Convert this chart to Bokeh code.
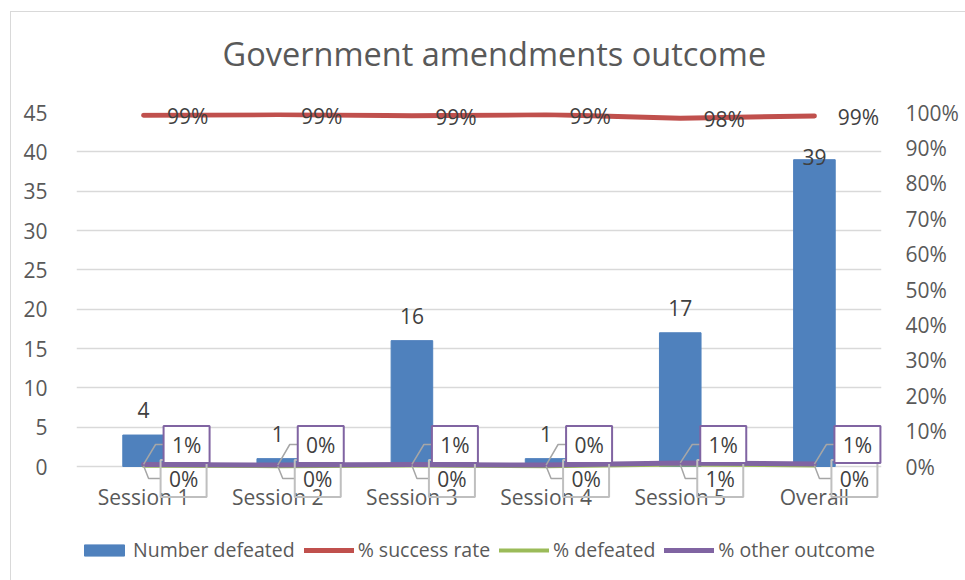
from bokeh.plotting import figure
from bokeh.models import (Range1d, LinearAxis, FixedTicker, NumeralTickFormatter,
                          Legend, LegendItem, Title)
from bokeh.embed import file_html
from bokeh.resources import INLINE
from bokeh.core.properties import value

# ---------------- data ----------------
categories = ["Session 1", "Session 2", "Session 3", "Session 4", "Session 5", "Overall"]
number_defeated = [4, 1, 16, 1, 17, 39]
success_rate = [0.992, 0.994, 0.991, 0.994, 0.984, 0.990]
pct_defeated = [0.002, 0.001, 0.003, 0.001, 0.006, 0.003]
pct_other = [0.006, 0.004, 0.006, 0.004, 0.010, 0.007]
left_ticks = [0, 5, 10, 15, 20, 25, 30, 35, 40, 45]
right_ticks = [0.0, 0.1, 0.2, 0.3, 0.4, 0.5, 0.6, 0.7, 0.8, 0.9, 1.0]

# ---------------- styling ----------------
FONT = "Open Sans"
BLUE, RED, GREEN, PURPLE = "#4f81bd", "#c0504d", "#9bbb59", "#8064a2"
LABEL_C, AXIS_C, GRID_C, LEADER_C, GREYBOX_C = "#404040", "#595959", "#d9d9d9", "#a6a6a6", "#bfbfbf"
FW = 805          # frame width
FH_DATA = 354     # pixels spanned by 0..max
FH_BELOW = 110    # extra frame below zero (category labels + legend)
FS = "21px"

n = len(categories)
xc = [i + 0.5 for i in range(n)]
LMAX = left_ticks[-1]
RMAX = right_ticks[-1]
PX = n / FW              # x data units per pixel
PY = RMAX / FH_DATA      # pct units per pixel
PYL = LMAX / FH_DATA     # left units per pixel

p = figure(frame_width=FW, frame_height=FH_DATA + FH_BELOW,
           x_range=Range1d(0, n), y_range=Range1d(-FH_BELOW * PYL, LMAX),
           output_backend="svg", toolbar_location=None,
           min_border_left=65, min_border_right=85, min_border_top=100, min_border_bottom=5)
p.extra_y_ranges = {"pct": Range1d(-FH_BELOW * PY, RMAX)}
p.outline_line_color = None
p.background_fill_color = "white"
p.border_fill_color = "white"
p.margin = (11, 0, 0, 10)
p.styles = {"border-left": "1px solid #d9d9d9", "border-top": "1px solid #d9d9d9"}

# spacer between frame and title
p.add_layout(Title(text=" ", text_font_size="10px", standoff=19), "above")

# title
p.title.text = "Government amendments outcome"
p.title.align = "left"
p.title.text_font = FONT
p.title.text_font_size = "32.5px"
p.title.text_font_style = "normal"
p.title.text_color = AXIS_C
p.title.standoff = 10
p.title.offset = 146

# axes
p.xaxis.visible = False
p.yaxis.ticker = FixedTicker(ticks=left_ticks)
right = LinearAxis(y_range_name="pct", ticker=FixedTicker(ticks=right_ticks),
                   formatter=NumeralTickFormatter(format="0%"))
p.add_layout(right, "right")
for ax in [p.yaxis[0], right]:
    ax.axis_line_color = None
    ax.major_tick_line_color = None
    ax.minor_tick_line_color = None
    ax.major_label_text_font = FONT
    ax.major_label_text_font_size = FS
    ax.major_label_text_color = AXIS_C
p.yaxis.major_label_standoff = 23
right.major_label_standoff = 18

p.xgrid.grid_line_color = None
p.ygrid.grid_line_color = GRID_C
p.ygrid.grid_line_width = 1.5

# category labels (as the x axis)
p.text(x=xc, y=[-30 * PYL] * n, text=categories, text_font=value(FONT), text_font_size=FS,
       text_color=AXIS_C, text_align="center", text_baseline="middle")

# series
bars = p.vbar(x=xc, top=number_defeated, width=0.31, color=BLUE)
l_succ = p.line(xc, success_rate, y_range_name="pct", color=RED, line_width=5,
                line_cap="round", line_join="round")
l_def = p.line(xc, pct_defeated, y_range_name="pct", color=GREEN, line_width=4,
               line_cap="round", line_join="round")
l_oth = p.line(xc, pct_other, y_range_name="pct", color=PURPLE, line_width=5,
               line_cap="round", line_join="round")

txt = dict(text_font=value(FONT), text_font_size=FS, text_color=LABEL_C,
           text_align="center", text_baseline="middle", level="overlay")

# bar labels
bar_label_y = [min(v + 25 * PYL, 39.4) for v in number_defeated]
p.text(x=xc, y=bar_label_y, text=[str(v) for v in number_defeated], **txt)

# success rate labels
p.text(x=xc, y=success_rate, y_range_name="pct", text=[f"{v:.0%}" for v in success_rate],
       x_offset=44, y_offset=1, **txt)

# % defeated callouts (grey)
gy = -12 * PY
p.multi_line(xs=[[x, x + 5 * PX, x + 17 * PX] for x in xc],
             ys=[[v, gy, gy] for v in pct_defeated], y_range_name="pct",
             line_color=LEADER_C, line_width=1.5, level="overlay")
p.rect(x=[x + 40 * PX for x in xc], y=[gy] * n, width=46, height=37,
       width_units="screen", height_units="screen", y_range_name="pct",
       fill_color=None, line_color=GREYBOX_C, line_width=2, level="overlay")
p.text(x=[x + 40 * PX for x in xc], y=[gy] * n, y_range_name="pct",
       text=[f"{v:.0%}" for v in pct_defeated], **txt)

# % other outcome callouts (purple)
py_ = 22 * PY
p.multi_line(xs=[[x, x + 12 * PX, x + 20 * PX] for x in xc],
             ys=[[v, py_, py_] for v in pct_other], y_range_name="pct",
             line_color=LEADER_C, line_width=1.5, level="overlay")
p.rect(x=[x + 43 * PX for x in xc], y=[py_] * n, width=46, height=37,
       width_units="screen", height_units="screen", y_range_name="pct",
       fill_color="white", line_color=PURPLE, line_width=2, level="overlay")
p.text(x=[x + 43 * PX for x in xc], y=[py_] * n, y_range_name="pct",
       text=[f"{v:.0%}" for v in pct_other], **txt)

# legend (inside the extended frame, below the category labels)
legend = Legend(items=[LegendItem(label="Number defeated", renderers=[bars]),
                       LegendItem(label="% success rate", renderers=[l_succ]),
                       LegendItem(label="% defeated", renderers=[l_def]),
                       LegendItem(label="% other outcome", renderers=[l_oth])],
                orientation="horizontal", location=(3, 13))
legend.background_fill_alpha = 0
legend.border_line_color = None
legend.padding = 0
legend.margin = 0
legend.spacing = 9
legend.label_standoff = 4
legend.glyph_width = 50
legend.glyph_height = 14
legend.label_text_font = FONT
legend.label_text_font_size = "19.5px"
legend.label_text_color = AXIS_C
p.add_layout(legend)

open("out.html", "w").write(file_html(p, INLINE))
